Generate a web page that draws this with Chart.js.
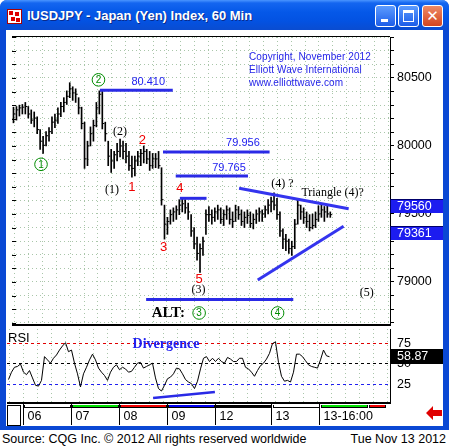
<!DOCTYPE html>
<html>
<head>
<meta charset="utf-8">
<title>IUSDJPY - Japan (Yen) Index, 60 Min</title>
<script src="https://cdn.jsdelivr.net/npm/chart.js@4.4.1/dist/chart.umd.min.js"></script>
<style>
  html, body { margin: 0; padding: 0; }
  body { width: 449px; height: 448px; position: relative; overflow: hidden; background: #fff; font-family: "Liberation Sans", Arial, sans-serif; }
  .abs { position: absolute; }
  #frame { left: 0; top: 0; width: 449px; height: 430px; background: #0a48d4; border-radius: 7px 7px 0 0; }
  #titlebar { left: 0; top: 0; width: 449px; height: 30px; border-radius: 7px 7px 0 0;
    background: linear-gradient(to bottom, #4a95ff 0%, #1466f0 10%, #0558e8 40%, #0352e2 70%, #0a4cd0 100%); }
  #title { left: 27px; top: 8px; color: #fff; font: bold 13px "Liberation Sans", Arial, sans-serif; text-shadow: 1px 1px 0 #0a2a8a; white-space: nowrap; }
  #icon { left: 7px; top: 9px; width: 13px; height: 13px; background: #fff; border: 1px solid #a00; }
  #icon i { position: absolute; width: 4px; height: 4px; background: #d00; }
  #client { left: 6px; top: 30px; width: 437px; height: 396px; background: #fff; }
  .btn { top: 5px; width: 19px; height: 20px; border: 1px solid #fff; border-radius: 3px; background: linear-gradient(#5d9cff, #1c5de8); }
  #bclose { background: linear-gradient(#ee8a66, #d2451f); }
  #copy { left: 249px; top: 50px; color: #2424e8; font-size: 10px; line-height: 13px; white-space: nowrap; letter-spacing: 0.1px; }
  #footer { left: 0; top: 430px; width: 449px; height: 18px; background: #fff; font-size: 12.5px; line-height: 18px; color: #000; }
  canvas { position: absolute; }
</style>
</head>
<body>
<div id="frame" class="abs"></div>
<div id="titlebar" class="abs"></div>
<div id="icon" class="abs"><i style="left:1px;top:1px"></i><i style="left:7px;top:2px"></i><i style="left:3px;top:7px"></i><i style="left:8px;top:8px"></i></div>
<div id="title" class="abs">IUSDJPY - Japan (Yen) Index, 60 Min</div>
<div class="abs btn" style="left:375px"><div class="abs" style="left:5px;top:13px;width:7px;height:3px;background:#fff"></div></div>
<div class="abs btn" style="left:398px"><div class="abs" style="left:4px;top:4px;width:9px;height:8px;border:1px solid #fff;border-top-width:3px"></div></div>
<div id="bclose" class="abs btn" style="left:422px"><div class="abs" style="left:0;top:0;width:19px;height:20px;color:#fff;font:bold 15px 'DejaVu Sans',sans-serif;text-align:center;line-height:20px">✕</div></div>
<div id="client" class="abs"></div>

<canvas id="main" width="436" height="297" style="left:7px;top:32px"></canvas>
<canvas id="rsi" width="436" height="96" style="left:7px;top:329px"></canvas>

<div id="copy" class="abs">Copyright, November 2012<br>Elliott Wave International<br>www.elliottwave.com</div>
<div class="abs" style="left:7px;top:405px;width:12px;height:19px;border:1px solid #000;background:#fff"></div>
<svg class="abs" style="left:426px;top:406px" width="17" height="14"><polygon points="0,7 7,0 7,4 16,4 16,10 7,10 7,14" fill="#e00000"/></svg>
<div id="footer" class="abs"><span style="position:absolute;left:2px">Source: CQG Inc. © 2012 All rights reserved worldwide</span><span style="position:absolute;right:3px">Tue Nov 13 2012</span></div>

<script>
// 60-min bars, USDJPY x 1000
const barHigh = [
  80285, 80290, 80300, 80305, 80320, 80290, 80265, 80250, 80215, 80120,
  80070, 80105, 80135, 80215, 80235, 80280, 80320, 80355, 80405, 80465,
  80435, 80420, 80355, 80285, 80175, 80035, 80140, 80190, 80320, 80405,
  80410, 80175, 80035, 79975, 79960, 80020, 80050, 80035, 80020, 79960,
  79925, 79925, 79960, 79975, 80000, 79975, 79960, 79945, 79945, 79960,
  79840, 79565, 79475, 79530, 79545, 79560, 79605, 79615, 79605, 79580,
  79495, 79400, 79330, 79280, 79330, 79530, 79555, 79530, 79545, 79565,
  79545, 79530, 79560, 79545, 79515, 79565, 79555, 79530, 79515, 79530,
  79515, 79500, 79530, 79545, 79530, 79560, 79605, 79625, 79655, 79615,
  79515, 79390, 79350, 79315, 79300, 79460, 79615, 79565, 79545, 79515,
  79495, 79500, 79515, 79560, 79565, 79555, 79560, 79515
];
const barLow = [
  80170, 80190, 80220, 80235, 80235, 80205, 80165, 80140, 80090, 79975,
  79945, 80000, 80035, 80090, 80135, 80165, 80215, 80250, 80305, 80355,
  80335, 80320, 80235, 80125, 79835, 79855, 80000, 80035, 80140, 80235,
  80125, 80035, 79855, 79805, 79835, 79890, 79920, 79905, 79875, 79820,
  79770, 79780, 79855, 79855, 79875, 79870, 79820, 79835, 79840, 79835,
  79565, 79315, 79350, 79425, 79445, 79460, 79495, 79515, 79505, 79460,
  79335, 79245, 79160, 79070, 79195, 79350, 79445, 79425, 79445, 79460,
  79430, 79415, 79460, 79425, 79400, 79445, 79460, 79415, 79400, 79430,
  79400, 79390, 79430, 79445, 79445, 79475, 79500, 79515, 79530, 79460,
  79335, 79245, 79230, 79210, 79195, 79245, 79425, 79460, 79430, 79400,
  79375, 79390, 79400, 79445, 79475, 79445, 79475, 79475
];
const barClose = [
  80235, 80265, 80280, 80285, 80290, 80235, 80190, 80205, 80120, 80035,
  80005, 80075, 80105, 80175, 80190, 80235, 80290, 80320, 80365, 80420,
  80390, 80380, 80280, 80165, 79905, 80000, 80090, 80150, 80280, 80380,
  80165, 80090, 79925, 79890, 79935, 79960, 80000, 79960, 79925, 79855,
  79835, 79890, 79925, 79945, 79960, 79905, 79855, 79905, 79905, 79855,
  79605, 79425, 79445, 79495, 79515, 79530, 79565, 79575, 79545, 79515,
  79375, 79280, 79210, 79245, 79300, 79495, 79495, 79475, 79515, 79530,
  79460, 79495, 79530, 79460, 79445, 79530, 79495, 79445, 79475, 79490,
  79430, 79460, 79500, 79515, 79500, 79530, 79565, 79590, 79565, 79495,
  79375, 79315, 79300, 79245, 79260, 79425, 79565, 79515, 79475, 79445,
  79400, 79415, 79460, 79500, 79530, 79515, 79500, 79495
];
const rsiValues = [
  31, 40, 46, 47, 50, 40, 37, 42, 33, 24,
  23, 30, 59, 55, 51, 57, 61, 67, 72, 76,
  65, 67, 51, 38, 22, 38, 46, 55, 62, 55,
  45, 40, 36, 30, 40, 46, 49, 43, 46, 44,
  40, 41, 46, 51, 52, 45, 47, 49, 51, 33,
  20, 17, 24, 32, 34, 38, 45, 44, 38, 31,
  28, 26, 20, 29, 44, 57, 59, 53, 57, 53,
  57, 53, 51, 58, 56, 53, 53, 57, 57, 46,
  44, 40, 35, 42, 48, 51, 56, 63, 75, 77,
  52, 35, 29, 30, 28, 40, 62, 62, 59, 54,
  49, 47, 46, 45, 55, 67, 60, 58.87
];
// horizontal levels: [first bar, last bar, price]
const levelLines = [[29.2, 53.8, 80410], [50.5, 86.5, 79956], [54.8, 79.2, 79780], [56.2, 65.2, 79615], [44.8, 94.5, 78871]];
const levelLabels = [['80.410', 45.5, 80471], ['79.956', 77.5, 80019], ['79.765', 72.8, 79840]];
// triangle boundaries: [bar, price, bar, price]
const triangleLines = [[76.2, 79689, 113.2, 79538], [82.5, 79014, 111.5, 79409]];
const priceTags = [79560, 79361];
const priceLabelStep = 500;
const rsiLevels = [25, 50, 75];
const dayLabels = ['06', '07', '08', '09', '12', '13', '13-16:00'];
const dayTickBars = [5, 21, 37, 53, 69, 87.7, 103.7];
const dayStripEnds = [119.7, 125.7];
const divergenceLine = [[48.2, 8.5], [68.8, 15.9]];
const waveNotes = [
  ['1', 9.3, 79865, 'circle'], ['2', 28.7, 80486, 'circle'], ['3', 62.7, 78772, 'circle'], ['4', 89.2, 78772, 'circle'],
  ['(1)', 33.3, 79675, 'paren'], ['(2)', 36, 80102, 'paren'], ['(3)', 62.5, 78943, 'paren'],
  ['(4) ?', 90.8, 79725, 'paren'], ['Triangle (4)?', 107.8, 79653, 'paren'], ['(5)', 119.3, 78917, 'paren'],
  ['1', 40, 79693, 'minor'], ['2', 43.5, 80041, 'minor'], ['3', 50.7, 79255, 'minor'], ['4', 56.2, 79685, 'minor'], ['5', 62.7, 79018, 'minor'],
  ['ALT:', 52.3, 78770, 'alt']
];

const X_MIN = -0.5, X_MAX = 127.167;
const dotColor = '#a9c6a9';
const lineBlue = '#2a2ae6';
const textBlue = '#2020f0';
const axisFont = { family: 'Liberation Sans', size: 12.5 };
const bars = barHigh.map((h, i) => i);
const gridCols = [];
for (let v = 0.5; v < X_MAX; v += 14 / 3) gridCols.push({ value: v });

const mainDecor = {
  id: 'mainDecor',
  afterDraw(chart) {
    const { ctx, chartArea: a, scales: { x, y } } = chart;
    ctx.save();
    ctx.fillStyle = '#000';
    ctx.fillRect(a.left, a.top - 1, a.right - a.left, 1);
    ctx.fillRect(a.left, a.bottom, a.right - a.left + 1, 2);
    y.ticks.forEach(t => {
      ctx.fillRect(a.left, Math.round(y.getPixelForValue(t.value)), 4, 1);
    });
    ctx.textAlign = 'center';
    ctx.textBaseline = 'middle';
    ctx.fillStyle = textBlue;
    ctx.font = '11px "Liberation Sans"';
    levelLabels.forEach(([t, b, p]) => ctx.fillText(t, x.getPixelForValue(b), y.getPixelForValue(p)));
    waveNotes.forEach(([t, b, p, kind]) => {
      const px = x.getPixelForValue(b), py = y.getPixelForValue(p);
      if (kind === 'circle') {
        ctx.strokeStyle = '#008c00';
        ctx.lineWidth = 1;
        ctx.beginPath();
        ctx.arc(px, py, 6.3, 0, Math.PI * 2);
        ctx.stroke();
        ctx.fillStyle = '#008c00';
        ctx.font = '10px "Liberation Sans"';
        ctx.fillText(t, px, py + 0.5);
      } else if (kind === 'paren') {
        ctx.fillStyle = '#000';
        ctx.font = '12px "Liberation Serif"';
        ctx.fillText(t, px, py);
      } else if (kind === 'minor') {
        ctx.fillStyle = '#f00000';
        ctx.font = '13px "Liberation Sans"';
        ctx.fillText(t, px, py);
      } else {
        ctx.fillStyle = '#000';
        ctx.font = 'bold 15px "Liberation Serif"';
        ctx.fillText(t, px, py);
      }
    });
    ctx.textAlign = 'left';
    ctx.font = '12.5px "Liberation Sans"';
    priceTags.forEach(v => {
      const py = Math.round(y.getPixelForValue(v));
      ctx.fillStyle = '#1c1cf0';
      ctx.fillRect(a.right, py - 7, 53, 14);
      ctx.fillStyle = '#00006a';
      ctx.fillRect(a.right, py - 7, 53, 1);
      ctx.fillRect(a.right, py - 7, 1, 14);
      ctx.fillStyle = '#fff';
      ctx.fillText(String(v), a.right + 7, py + 0.5);
    });
    ctx.restore();
  }
};

new Chart(document.getElementById('main'), {
  type: 'bar',
  data: {
    datasets: [
      ...levelLines.map(([b0, b1, p]) => ({
        type: 'line', order: 0, data: [{ x: b0, y: p }, { x: b1, y: p }],
        borderColor: lineBlue, borderWidth: 3, pointRadius: 0
      })),
      ...triangleLines.map(([b0, p0, b1, p1]) => ({
        type: 'line', order: 0, data: [{ x: b0, y: p0 }, { x: b1, y: p1 }],
        borderColor: '#3434ee', borderWidth: 3, pointRadius: 0
      })),
      {
        type: 'line', order: 1, data: bars.map(i => ({ x: i, y: barClose[i] })),
        showLine: false, pointStyle: 'dash', pointRadius: 2, borderColor: '#000', borderWidth: 1
      },
      {
        type: 'bar', order: 2, data: bars.map(i => ({ x: i, y: [barLow[i], barHigh[i]] })),
        backgroundColor: '#000', borderWidth: 0, barThickness: 1
      }
    ]
  },
  options: {
    responsive: false, animation: false, devicePixelRatio: 1, events: [],
    layout: { padding: { top: 1, bottom: 2, left: 0, right: 0 } },
    plugins: { legend: { display: false }, tooltip: { enabled: false } },
    scales: {
      x: {
        type: 'linear', min: X_MIN, max: X_MAX, offset: false,
        afterBuildTicks: s => { s.ticks = gridCols.slice(); },
        ticks: { display: false },
        grid: { color: dotColor, drawTicks: false, offset: false },
        border: { display: false, dash: [1, 3] },
        afterFit: s => { s.height = 0; s.paddingLeft = 0; s.paddingRight = 0; }
      },
      y: {
        position: 'right', min: 78691, max: 80801,
        afterBuildTicks: s => { const t = []; for (let v = 78700; v <= 80800; v += 100) t.push({ value: v }); s.ticks = t; },
        ticks: { autoSkip: false, callback: v => (v % priceLabelStep === 0 ? String(v) : ''), color: '#000', font: axisFont, padding: 3 },
        grid: { color: dotColor, tickColor: '#000', tickLength: 4, tickWidth: 1 },
        border: { display: true, color: '#000', width: 1, dash: [1, 3] },
        afterFit: s => { s.width = 53; s.paddingTop = 0; s.paddingBottom = 0; }
      }
    }
  },
  plugins: [mainDecor]
});

const stripColors = ['#ffffff', '#00e000', '#f00000', '#0000f0', '#000000', '#ffffff', '#00e000', '#f00000'];
const rsiDecor = {
  id: 'rsiDecor',
  afterDraw(chart) {
    const { ctx, chartArea: a, scales: { x, y } } = chart;
    ctx.save();
    const bounds = dayTickBars.concat(dayStripEnds);
    for (let k = 0; k < bounds.length - 1; k++) {
      const x0 = Math.round(x.getPixelForValue(bounds[k])) + 2;
      const x1 = Math.round(x.getPixelForValue(bounds[k + 1])) - 1;
      ctx.fillStyle = '#000';
      ctx.fillRect(x0 - 1, a.bottom + 2, x1 - x0 + 2, 3);
      ctx.fillStyle = stripColors[k];
      ctx.fillRect(x0, a.bottom + 2, x1 - x0, 2);
    }
    ctx.fillStyle = '#000';
    ctx.font = '13px "Liberation Sans"';
    ctx.textAlign = 'left';
    ctx.textBaseline = 'middle';
    ctx.fillText('RSI', a.left + 1, a.top + 9);
    ctx.fillStyle = textBlue;
    ctx.font = 'bold 14px "Liberation Serif"';
    ctx.textAlign = 'center';
    ctx.fillText('Divergence', x.getPixelForValue(52.5), y.getPixelForValue(74.4));
    const last = rsiValues[rsiValues.length - 1];
    const py = Math.round(y.getPixelForValue(last));
    ctx.fillStyle = '#000';
    ctx.fillRect(a.right, py - 8, 53, 15);
    ctx.fillStyle = '#fff';
    ctx.font = '12.5px "Liberation Sans"';
    ctx.textAlign = 'left';
    ctx.fillText(last.toFixed(2), a.right + 7, py);
    ctx.restore();
  }
};

const levelColor = { 25: '#2020f0', 50: '#000000', 75: '#e00000' };
new Chart(document.getElementById('rsi'), {
  type: 'line',
  data: {
    datasets: [
      {
        data: divergenceLine.map(([b, v]) => ({ x: b, y: v })),
        borderColor: lineBlue, borderWidth: 2.5, pointRadius: 0
      },
      {
        data: bars.map(i => ({ x: i, y: rsiValues[i] })),
        borderColor: '#000', borderWidth: 1, pointRadius: 0, tension: 0
      }
    ]
  },
  options: {
    responsive: false, animation: false, devicePixelRatio: 1, events: [],
    layout: { padding: 0 },
    plugins: { legend: { display: false }, tooltip: { enabled: false } },
    scales: {
      x: {
        type: 'linear', position: 'bottom', min: X_MIN, max: X_MAX,
        afterBuildTicks: s => { s.ticks = dayTickBars.map(v => ({ value: v })); },
        ticks: {
          autoSkip: false, maxRotation: 0, align: 'start', labelOffset: 4, padding: -16,
          color: '#000', font: axisFont, callback: (v, k) => dayLabels[k]
        },
        grid: { drawOnChartArea: false, tickLength: 22, tickColor: '#000', tickWidth: 1 },
        border: { display: true, color: '#000', width: 2 },
        afterFit: s => { s.height = 22; s.paddingLeft = 0; s.paddingRight = 0; }
      },
      xg: {
        type: 'linear', position: 'top', min: X_MIN, max: X_MAX,
        afterBuildTicks: s => { s.ticks = gridCols.slice(); },
        ticks: { display: false },
        grid: { color: dotColor, drawTicks: false },
        border: { display: false, dash: [1, 3] },
        afterFit: s => { s.height = 0; s.paddingLeft = 0; s.paddingRight = 0; }
      },
      y: {
        position: 'right', min: 2.4, max: 92.7,
        afterBuildTicks: s => { s.ticks = rsiLevels.map(v => ({ value: v })); },
        ticks: { autoSkip: false, color: '#000', font: axisFont, padding: 2 },
        grid: { color: c => levelColor[c.tick ? c.tick.value : 50], tickColor: 'rgba(0,0,0,0)', tickLength: 5 },
        border: { display: true, color: '#000', width: 1, dash: [3, 3] },
        afterFit: s => { s.width = 53; s.paddingTop = 0; s.paddingBottom = 0; }
      }
    }
  },
  plugins: [rsiDecor]
});
</script>
</body>
</html>
